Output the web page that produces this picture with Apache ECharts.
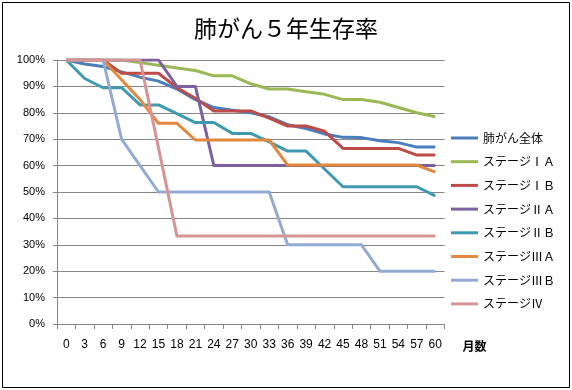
<!DOCTYPE html>
<html>
<head>
<meta charset="utf-8">
<script src="https://cdn.jsdelivr.net/npm/echarts@6/dist/echarts.min.js"></script>
<style>
html,body{margin:0;padding:0;background:#fff;}
#chart{width:572px;height:390px;}
</style>
</head>
<body>
<div id="chart"></div>
<script>
const months = ['0','3','6','9','12','15','18','21','24','27','30','33','36','39','42','45','48','51','54','57','60'];
const seriesNames = ['肺がん全体','ステージⅠＡ','ステージⅠＢ','ステージⅡＡ','ステージⅡＢ','ステージⅢＡ','ステージⅢＢ','ステージⅣ'];
const overall = [100,98.5,97.5,95.5,93.5,92,89,85,82,81,80,78.5,75.5,74,72,70.7,70.6,69.4,68.7,67,67];
const stageIA = [100,100,100,100,99,98,97,96,94,94,91,89,89,88,87,85,85,84,82,80,78.5];
const stageIB = [100,100,100,95,95,95,89.5,85.5,80.7,80.7,80.7,78,75,75,73,66.5,66.5,66.5,66.5,64,64];
const stageIIA = [100,100,100,100,100,100,90,90,60,60,60,60,60,60,60,60,60,60,60,60,60];
const stageIIB = [100,93,89.5,89.5,83,83,79.7,76.3,76.3,72.2,72.2,69,65.5,65.5,58.7,52,52,52,52,52,48.5];
const stageIIIA = [100,100,100,92.5,85,76,76,69.7,69.7,69.7,69.7,69.7,60.2,60.2,60.2,60.2,60.2,60.2,60.2,60.2,57.5];
const stageIIIB = [100,100,100,70,60,50,50,50,50,50,50,50,30,30,30,30,30,20,20,20,20];
const stageIV = [100,100,100,100,100,66.7,33.3,33.3,33.3,33.3,33.3,33.3,33.3,33.3,33.3,33.3,33.3,33.3,33.3,33.3,33.3];
const yTicks = ['0%','10%','20%','30%','40%','50%','60%','70%','80%','90%','100%'];

const allData = [overall, stageIA, stageIB, stageIIA, stageIIB, stageIIIA, stageIIIB, stageIV];
const colors = ['#4A7EBB','#98B954','#BE4B48','#7D60A0','#3F9AB1','#E3883D','#93AAD3','#D69494'];

const chart = echarts.init(document.getElementById('chart'));
chart.setOption({
  animation: false,
  backgroundColor: '#fff',
  title: {
    text: '肺がん５年生存率',
    left: 'center',
    top: 12,
    textStyle: {fontFamily: 'Noto Sans CJK JP', fontSize: 23, fontWeight: 'normal', color: '#000'}
  },
  legend: {
    orient: 'vertical',
    left: 446,
    top: 126,
    icon: 'rect',
    itemWidth: 27,
    itemHeight: 3,
    itemGap: 9.7,
    data: seriesNames,
    textStyle: {fontFamily: 'Noto Sans CJK JP', fontSize: 12, color: '#000', lineHeight: 14}
  },
  grid: {left: 57, right: 127.5, top: 60, bottom: 66, containLabel: false},
  xAxis: {
    type: 'category',
    data: months,
    boundaryGap: true,
    name: '月数',
    nameLocation: 'end',
    nameGap: 18,
    nameTextStyle: {fontFamily: 'Noto Sans CJK JP', fontSize: 12, fontWeight: 'bold', color: '#000', verticalAlign: 'top', padding: [16, 0, 0, 0]},
    axisLine: {lineStyle: {color: '#868686', width: 1}},
    axisTick: {show: true, length: 5, inside: false, alignWithLabel: false, lineStyle: {color: '#868686'}},
    axisLabel: {margin: 15, fontFamily: 'Liberation Sans', fontSize: 12, color: '#000', interval: 0},
    splitLine: {show: false}
  },
  yAxis: {
    type: 'value',
    min: 0,
    max: 100,
    interval: 10,
    axisLine: {show: true, lineStyle: {color: '#868686', width: 1}},
    axisTick: {show: true, length: 4, lineStyle: {color: '#868686'}},
    axisLabel: {margin: 12, fontFamily: 'Liberation Sans', fontSize: 11, color: '#000',
      formatter: function (v) { return yTicks[Math.round(v / 10)]; }},
    splitLine: {show: true, lineStyle: {color: '#868686', width: 1}}
  },
  graphic: [{
    type: 'rect',
    shape: {x: 2.5, y: 2.5, width: 567, height: 385},
    style: {fill: null, stroke: '#000', lineWidth: 1},
    silent: true,
    z: 100
  }],
  series: seriesNames.map((n, i) => ({
    name: n,
    type: 'line',
    data: allData[i],
    symbol: 'none',
    showSymbol: false,
    color: colors[i],
    lineStyle: {width: 3, color: colors[i], join: 'round'},
    itemStyle: {color: colors[i]}
  }))
});
</script>
</body>
</html>
